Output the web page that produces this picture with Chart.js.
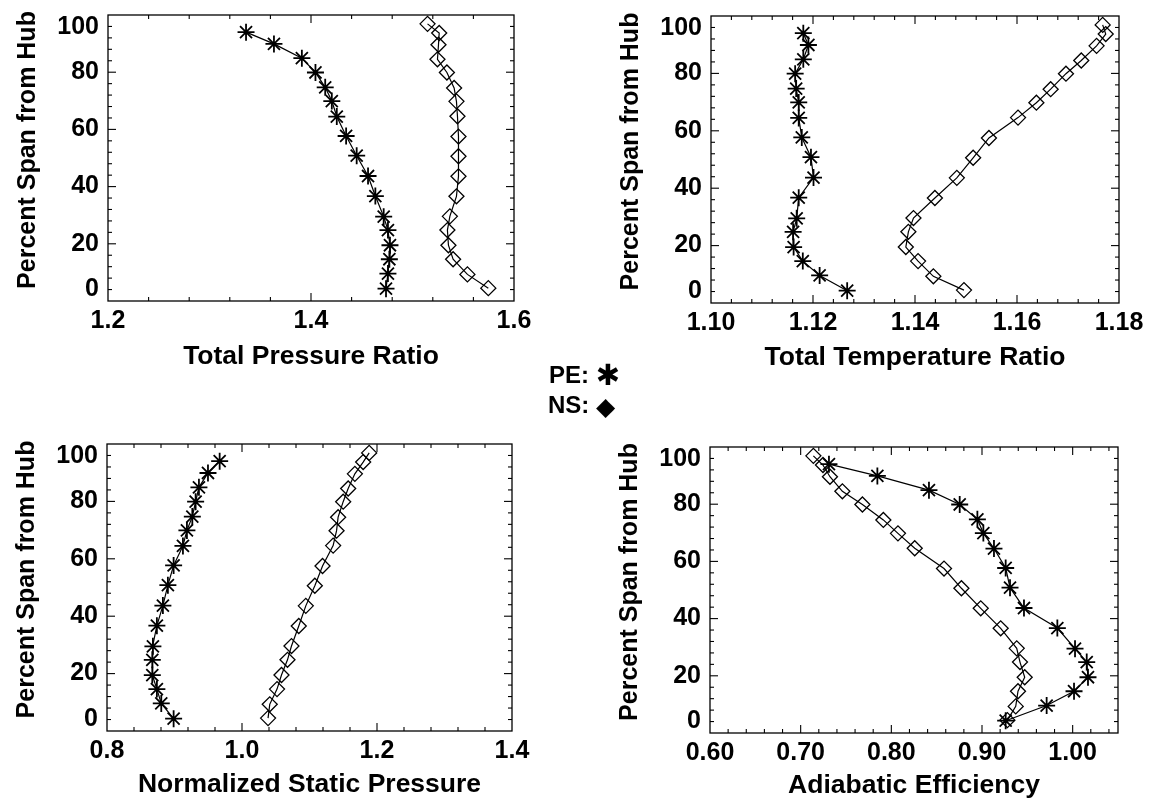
<!DOCTYPE html>
<html>
<head>
<meta charset="utf-8">
<script src="https://cdn.jsdelivr.net/npm/chart.js@4.4.0/dist/chart.umd.min.js"></script>
<style>
  html, body { margin: 0; padding: 0; background: #fff; }
  body { width: 1153px; height: 803px; position: relative; overflow: hidden; }
  canvas { position: absolute; }
  .key { position: absolute; font: bold 24px 'Liberation Sans', Arial, sans-serif; color: #000;
         line-height: 30px; white-space: nowrap; }
  .key span { font-family: 'DejaVu Sans'; font-weight: normal; vertical-align: -2px; }
  .key .star { font-size: 29px; }
  .key .dia { font-size: 25px; }
</style>
</head>
<body>
<canvas id="c1" width="576" height="400" style="left:0;top:0"></canvas>
<canvas id="c2" width="577" height="400" style="left:576px;top:0"></canvas>
<canvas id="c3" width="576" height="403" style="left:0;top:400px"></canvas>
<canvas id="c4" width="577" height="403" style="left:576px;top:400px"></canvas>
<div class="key" style="left:549px;top:360px">PE: <span class="star">✱</span></div>
<div class="key" style="left:548px;top:390px">NS: <span class="dia">◆</span></div>

<script>
// Radial stations (percent span from hub), hub to tip
const SPAN_PE = [4.3, 9.6, 14.6, 19.5, 24.8, 29.5, 36.7, 43.7, 50.8, 57.7, 64.5, 69.9, 74.7, 79.9, 84.9, 89.9, 94.0];
const SPAN_NS = [4.5, 9.3, 14.6, 19.5, 24.8, 29.6, 36.6, 43.6, 50.6, 57.5, 64.6, 69.8, 74.5, 79.9, 84.5, 89.6, 93.7, 96.9];

// Total pressure ratio
const PRESSURE_PE = [1.4739, 1.4758, 1.4772, 1.4778, 1.4758, 1.4716, 1.4634, 1.4562, 1.4450, 1.4346, 1.4254, 1.4205, 1.4140, 1.4044, 1.3910, 1.3635, 1.3360];
const PRESSURE_NS = [1.5747, 1.5541, 1.5400, 1.5354, 1.5344, 1.5368, 1.5433, 1.5453, 1.5453, 1.5453, 1.5443, 1.5433, 1.5410, 1.5339, 1.5246, 1.5256, 1.5263, 1.5148];

// Total temperature ratio
const TEMPERATURE_PE = [1.1267, 1.1213, 1.1180, 1.1162, 1.1161, 1.1168, 1.1172, 1.1201, 1.1196, 1.1178, 1.1172, 1.1172, 1.1167, 1.1165, 1.1181, 1.1191, 1.1181];
const TEMPERATURE_NS = [1.1496, 1.1436, 1.1406, 1.1382, 1.1387, 1.1397, 1.1439, 1.1482, 1.1514, 1.1545, 1.1602, 1.1638, 1.1666, 1.1696, 1.1726, 1.1756, 1.1774, 1.1768];

// Normalized static pressure
const STATIC_PE = [0.8987, 0.8804, 0.8739, 0.8671, 0.8671, 0.8680, 0.8739, 0.8828, 0.8902, 0.8987, 0.9125, 0.9184, 0.9264, 0.9313, 0.9362, 0.9496, 0.9669];
const STATIC_NS = [1.0386, 1.0411, 1.0519, 1.0585, 1.0674, 1.0733, 1.0841, 1.0945, 1.1079, 1.1193, 1.1350, 1.1401, 1.1424, 1.1499, 1.1573, 1.1672, 1.1795, 1.1884];

// Adiabatic efficiency
const EFFICIENCY_PE = [0.9261, 0.9713, 1.0015, 1.0169, 1.0155, 1.0026, 0.9831, 0.9463, 0.9309, 0.9261, 0.9132, 0.9015, 0.8949, 0.8754, 0.8415, 0.7846, 0.7312];
const EFFICIENCY_NS = [0.9280, 0.9372, 0.9397, 0.9471, 0.9419, 0.9383, 0.9206, 0.8986, 0.8773, 0.8581, 0.8258, 0.8073, 0.7912, 0.7681, 0.7460, 0.7323, 0.7246, 0.7140];

// Axis ticks and labels
const Y_TICKS = [0, 20, 40, 60, 80, 100];
const Y_TITLE = 'Percent Span from Hub';
const PRESSURE_TICKS = [1.2, 1.4, 1.6];
const PRESSURE_LABELS = ['1.2', '1.4', '1.6'];
const TEMPERATURE_TICKS = [1.10, 1.12, 1.14, 1.16, 1.18];
const TEMPERATURE_LABELS = ['1.10', '1.12', '1.14', '1.16', '1.18'];
const STATIC_TICKS = [0.8, 1.0, 1.2, 1.4];
const STATIC_LABELS = ['0.8', '1.0', '1.2', '1.4'];
const EFFICIENCY_TICKS = [0.60, 0.70, 0.80, 0.90, 1.00];
const EFFICIENCY_LABELS = ['0.60', '0.70', '0.80', '0.90', '1.00'];

const FONT = "'Liberation Sans', Arial, Helvetica, sans-serif";
const MAJOR = 8, MINOR = 4;

const pts = (xs, ys) => xs.map((v, i) => ({ x: v, y: ys[i] }));

// Box frame with inward ticks on all four sides, plus the span labels and title
const framePlugin = {
  id: 'frame',
  afterDraw(chart, args, o) {
    const { ctx, chartArea: a, scales: { x, y } } = chart;
    ctx.save();
    ctx.strokeStyle = '#000';
    ctx.lineWidth = 1.3;
    ctx.strokeRect(a.left, a.top, a.right - a.left, a.bottom - a.top);
    ctx.lineWidth = 1.1;
    const seg = (x1, y1, x2, y2) => { ctx.beginPath(); ctx.moveTo(x1, y1); ctx.lineTo(x2, y2); ctx.stroke(); };

    const nx = Math.floor((x.max - x.min) / o.xMinor + 1e-6);
    for (let i = 1; i <= nx; i++) {
      const v = x.min + i * o.xMinor;
      if (v >= x.max - 1e-9) break;
      const px = x.getPixelForValue(v);
      const len = i % o.xPer === 0 ? MAJOR : MINOR;
      seg(px, a.bottom, px, a.bottom - len);
      seg(px, a.top, px, a.top + len);
    }
    const ny = Math.floor((y.max - y.min) / o.yMinor + 1e-6);
    for (let i = 1; i < ny; i++) {
      const py = y.getPixelForValue(y.min + i * o.yMinor);
      const len = i % o.yPer === 0 ? MAJOR : MINOR;
      seg(a.left, py, a.left + len, py);
      seg(a.right, py, a.right - len, py);
    }

    ctx.fillStyle = '#000';
    ctx.font = `bold 25px ${FONT}`;
    ctx.textAlign = 'right';
    ctx.textBaseline = 'middle';
    Y_TICKS.forEach(v => {
      let py = y.getPixelForValue(v);
      py = Math.min(Math.max(py, a.top + 12), a.bottom - 12);
      ctx.fillText(String(v), a.left - 9, py);
    });

    ctx.translate(a.left - 80, (a.top + a.bottom) / 2 - 8);
    ctx.rotate(-Math.PI / 2);
    ctx.textAlign = 'center';
    ctx.fillText(Y_TITLE, 0, 0);
    ctx.restore();
  }
};

const peStyle = {
  label: 'PE', showLine: true, borderColor: '#000', borderWidth: 1.2,
  pointStyle: 'star', pointRadius: 8.5, pointBorderWidth: 1.8,
  pointBorderColor: '#000', pointBackgroundColor: 'rgba(0,0,0,0)', clip: false
};
const nsStyle = {
  label: 'NS', showLine: true, borderColor: '#000', borderWidth: 1.2,
  pointStyle: 'rectRot', pointRadius: 7.5, pointBorderWidth: 1.3,
  pointBorderColor: '#000', pointBackgroundColor: 'rgba(0,0,0,0)', clip: false
};

function makeChart(id, cfg) {
  return new Chart(document.getElementById(id), {
    type: 'scatter',
    data: {
      datasets: [
        { ...peStyle, data: pts(cfg.pe, SPAN_PE) },
        { ...nsStyle, data: pts(cfg.ns, SPAN_NS) }
      ]
    },
    options: {
      responsive: false,
      animation: false,
      events: [],
      layout: { padding: cfg.pad },
      plugins: {
        legend: { display: false },
        tooltip: { enabled: false },
        frame: { xMinor: cfg.xMinor, xPer: 5, yMinor: 4, yPer: 5 }
      },
      scales: {
        x: {
          type: 'linear', min: cfg.xMin, max: cfg.xMax,
          afterBuildTicks: s => { s.ticks = cfg.xTicks.map(v => ({ value: v })); },
          afterFit: s => { s.height = cfg.xH; },
          grid: { display: false, drawTicks: false },
          border: { display: false },
          ticks: {
            color: '#000', padding: 5, maxRotation: 0, autoSkip: false,
            font: { family: FONT, size: 25, weight: 'bold' },
            callback: (v, i) => cfg.xLabels[i]
          },
          title: {
            display: true, text: cfg.title, color: '#000', padding: 0,
            font: { family: FONT, size: 26.5, weight: 'bold' }
          }
        },
        y: {
          type: 'linear', min: 0, max: 100,
          afterFit: s => { s.width = cfg.yW; },
          grid: { display: false, drawTicks: false },
          border: { display: false },
          ticks: { display: false }
        }
      }
    },
    plugins: [framePlugin]
  });
}

makeChart('c1', {
  pe: PRESSURE_PE, ns: PRESSURE_NS, title: 'Total Pressure Ratio',
  xMin: 1.2, xMax: 1.6, xMinor: 0.04, xTicks: PRESSURE_TICKS, xLabels: PRESSURE_LABELS,
  pad: { left: 0, top: 15, right: 62, bottom: 27 }, xH: 72, yW: 108
});
makeChart('c2', {
  pe: TEMPERATURE_PE, ns: TEMPERATURE_NS, title: 'Total Temperature Ratio',
  xMin: 1.10, xMax: 1.18, xMinor: 0.004, xTicks: TEMPERATURE_TICKS, xLabels: TEMPERATURE_LABELS,
  pad: { left: 0, top: 16, right: 34, bottom: 26 }, xH: 71, yW: 135
});
makeChart('c3', {
  pe: STATIC_PE, ns: STATIC_NS, title: 'Normalized Static Pressure',
  xMin: 0.8, xMax: 1.4, xMinor: 0.04, xTicks: STATIC_TICKS, xLabels: STATIC_LABELS,
  pad: { left: 0, top: 44, right: 64, bottom: 2 }, xH: 70, yW: 107
});
makeChart('c4', {
  pe: EFFICIENCY_PE, ns: EFFICIENCY_NS, title: 'Adiabatic Efficiency',
  xMin: 0.60, xMax: 1.05, xMinor: 0.02, xTicks: EFFICIENCY_TICKS, xLabels: EFFICIENCY_LABELS,
  pad: { left: 0, top: 47, right: 35, bottom: 1 }, xH: 69, yW: 134
});
</script>
</body>
</html>
